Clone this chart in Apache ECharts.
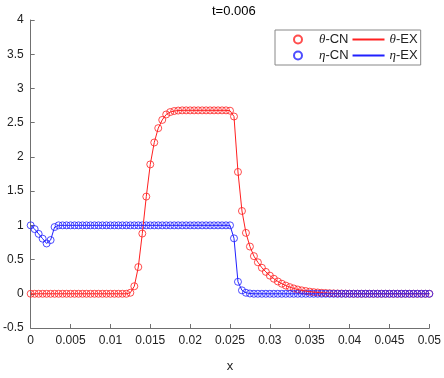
<!DOCTYPE html>
<html>
<head>
<meta charset="utf-8">
<script src="https://cdn.jsdelivr.net/npm/echarts@6/dist/echarts.min.js"></script>
<style>
html,body{margin:0;padding:0;background:#fff;}
#main{width:444px;height:378px;}
</style>
</head>
<body>
<div id="main"></div>
<script>
// grid points
var xs = [0,0.0005,0.001,0.0015,0.002,0.0025,0.003,0.0035,0.004,0.0045,
  0.005,0.0055,0.006,0.0065,0.007,0.0075,0.008,0.0085,0.009,0.0095,
  0.01,0.0105,0.011,0.0115,0.012,0.0125,0.013,0.0135,0.014,0.0145,
  0.015,0.0155,0.016,0.0165,0.017,0.0175,0.018,0.0185,0.019,0.0195,
  0.02,0.0205,0.021,0.0215,0.022,0.0225,0.023,0.0235,0.024,0.0245,
  0.025,0.0255,0.026,0.0265,0.027,0.0275,0.028,0.0285,0.029,0.0295,
  0.03,0.0305,0.031,0.0315,0.032,0.0325,0.033,0.0335,0.034,0.0345,
  0.035,0.0355,0.036,0.0365,0.037,0.0375,0.038,0.0385,0.039,0.0395,
  0.04,0.0405,0.041,0.0415,0.042,0.0425,0.043,0.0435,0.044,0.0445,
  0.045,0.0455,0.046,0.0465,0.047,0.0475,0.048,0.0485,0.049,0.0495,0.05];

// theta
var theta = [0,0,0,0,0,0,0,0,0,0,
  0,0,0,0,0,0,0,0,0,0,
  0,0,0,0,0,0.015,0.11,0.39,0.88,1.42,
  1.89,2.21,2.42,2.54,2.62,2.655,2.67,2.677,2.68,2.68,
  2.68,2.68,2.68,2.68,2.68,2.68,2.68,2.68,2.68,2.68,
  2.675,2.59,1.78,1.21,0.89,0.69,0.55,0.46,0.38,0.32,
  0.265,0.22,0.18,0.147,0.12,0.097,0.078,0.062,0.05,0.04,
  0.031,0.024,0.019,0.014,0.011,0.008,0.006,0.004,0.003,0.002,
  0.001,0,0,0,0,0,0,0,0,0,
  0,0,0,0,0,0,0,0,0,0,0];

// eta
var eta = [1,0.945,0.875,0.805,0.735,0.785,0.975,1,1,1,
  1,1,1,1,1,1,1,1,1,1,
  1,1,1,1,1,1,1,1,1,1,
  1,1,1,1,1,1,1,1,1,1,
  1,1,1,1,1,1,1,1,1,1,
  1,0.81,0.175,0.05,0.015,0.004,0,0,0,0,
  0,0,0,0,0,0,0,0,0,0,
  0,0,0,0,0,0,0,0,0,0,
  0,0,0,0,0,0,0,0,0,0,
  0,0,0,0,0,0,0,0,0,0,0];

var names = ['θ-CN','θ-EX','η-CN','η-EX'];

function pairs(ys)
{
	var out = [];
	for (var i = 0; i < xs.length; i++) out.push([xs[i], ys[i]]);
	return out;
}

var font = 'Liberation Sans, Arial, sans-serif';
var axisColor = '#707070';
var red = '#ff2020';
var blue = '#2020ff';
var noDot = {color: 'rgba(0,0,0,0)', borderWidth: 0, opacity: 0};

var myChart = echarts.init(document.getElementById('main'));
myChart.setOption({
	animation: false,
	backgroundColor: '#fff',
	title: {
		text: 't=0.006',
		left: 207,
		top: 0,
		textStyle: {fontFamily: font, fontSize: 13, fontWeight: 'normal', color: '#000'}
	},
	legend: {
		left: 275,
		top: 30,
		width: 138,
		padding: [3, 3, 3, 18],
		itemGap: 3,
		itemWidth: 32,
		itemHeight: 8,
		borderColor: '#888',
		borderWidth: 1,
		backgroundColor: '#fff',
		data: [
			{name: names[0]},
			{name: names[1], itemStyle: noDot},
			{name: names[2]},
			{name: names[3], itemStyle: noDot}
		],
		formatter: function (name) {
			return '{g|' + name.charAt(0) + '}' + name.slice(1);
		},
		textStyle: {
			fontFamily: font, fontSize: 13, color: '#222', lineHeight: 12,
			rich: {g: {fontFamily: 'Liberation Serif, DejaVu Serif, serif', fontStyle: 'italic', fontSize: 13, lineHeight: 12}}
		}
	},
	grid: {left: 29, right: 14, top: 20, bottom: 42, containLabel: false},
	xAxis: {
		type: 'value',
		min: 0, max: 0.05, interval: 0.005,
		name: 'x',
		nameLocation: 'middle',
		nameGap: 32,
		nameTextStyle: {fontFamily: font, fontSize: 13, color: '#222'},
		axisLine: {show: true, onZero: false, lineStyle: {color: axisColor, width: 1}},
		axisTick: {show: true, inside: true, length: 4, lineStyle: {color: axisColor}},
		axisLabel: {margin: 7, fontFamily: font, fontSize: 12, color: '#222'},
		splitLine: {show: false}
	},
	yAxis: {
		type: 'value',
		min: -0.5, max: 4, interval: 0.5,
		axisLine: {show: true, onZero: false, lineStyle: {color: axisColor, width: 1}},
		axisTick: {show: true, inside: true, length: 4, lineStyle: {color: axisColor}},
		axisLabel: {margin: 7, fontFamily: font, fontSize: 12, color: '#222'},
		splitLine: {show: false}
	},
	series: [
		{
			name: names[0], type: 'scatter', data: pairs(theta),
			symbol: 'circle', symbolSize: 7,
			itemStyle: {color: 'rgba(0,0,0,0)', borderColor: red, borderWidth: 1}
		},
		{
			name: names[1], type: 'line', data: pairs(theta),
			symbol: 'none', lineStyle: {color: red, width: 1},
			itemStyle: {color: red}
		},
		{
			name: names[2], type: 'scatter', data: pairs(eta),
			symbol: 'circle', symbolSize: 7,
			itemStyle: {color: 'rgba(0,0,0,0)', borderColor: blue, borderWidth: 1}
		},
		{
			name: names[3], type: 'line', data: pairs(eta),
			symbol: 'none', lineStyle: {color: blue, width: 1},
			itemStyle: {color: blue}
		}
	]
});
</script>
</body>
</html>
